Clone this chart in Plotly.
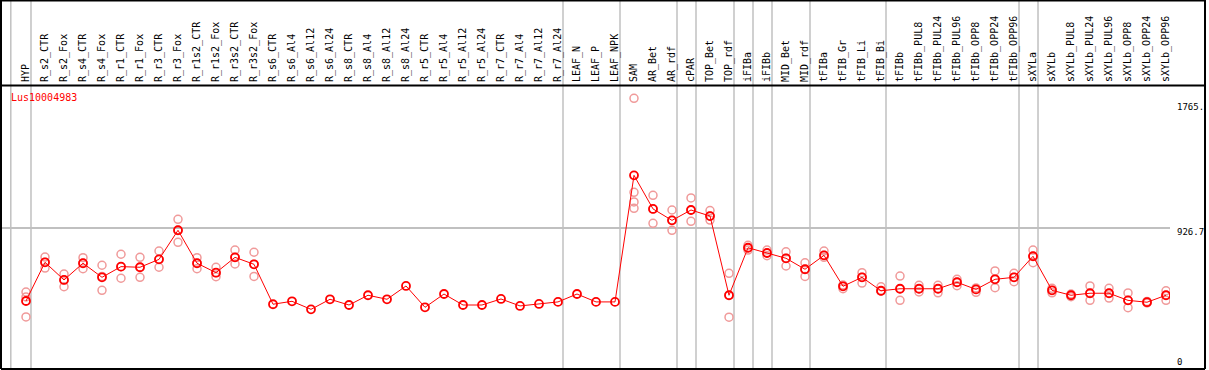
import plotly.graph_objects as go

categories = [
    "HYP", "R_s2_CTR", "R_s2_Fox", "R_s4_CTR", "R_s4_Fox", "R_r1_CTR", "R_r1_Fox",
    "R_r3_CTR", "R_r3_Fox", "R_r1s2_CTR", "R_r1s2_Fox", "R_r3s2_CTR", "R_r3s2_Fox",
    "R_s6_CTR", "R_s6_Al4", "R_s6_Al12", "R_s6_Al24", "R_s8_CTR", "R_s8_Al4",
    "R_s8_Al12", "R_s8_Al24", "R_r5_CTR", "R_r5_Al4", "R_r5_Al12", "R_r5_Al24",
    "R_r7_CTR", "R_r7_Al4", "R_r7_Al12", "R_r7_Al24", "LEAF_N", "LEAF_P", "LEAF_NPK",
    "SAM", "AR_Bet", "AR_rdf", "cPAR", "TOP_Bet", "TOP_rdf", "iFIBa", "iFIBb",
    "MID_Bet", "MID_rdf", "tFIBa", "tFIB_Gr", "tFIB_Li", "tFIB_Bi", "tFIBb",
    "tFIBb_PUL8", "tFIBb_PUL24", "tFIBb_PUL96", "tFIBb_OPP8", "tFIBb_OPP24",
    "tFIBb_OPP96", "sXYLa", "sXYLb", "sXYLb_PUL8", "sXYLb_PUL24", "sXYLb_PUL96",
    "sXYLb_OPP8", "sXYLb_OPP24", "sXYLb_OPP96",
]

mean_values = [
    455, 705, 591, 699, 608, 677, 673, 724, 912, 699, 638, 737, 692,
    434, 453, 401, 466, 429, 492, 466, 552, 414, 500, 429, 429,
    468, 423, 436, 449, 500, 449, 449,
    1267, 1050, 976, 1043, 1004, 492, 799, 765, 731, 660, 750,
    550, 608, 521, 534, 534, 534, 576, 530, 595, 608,
    744, 524, 492, 505, 505, 459, 447, 492,
]

replicate_values = [
    [513, 481, 352], [739, 705, 668], [629, 591, 547], [735, 699, 664],
    [686, 614, 524], [757, 677, 602], [737, 673, 608], [778, 724, 673],
    [983, 912, 834], [735, 699, 664], [673, 638, 612], [784, 737, 694],
    [770, 692, 614],
    [], [], [], [], [], [], [], [], [], [], [], [], [], [], [], [], [], [], [],
    [1765, 1157, 1095, 1054], [1138, 1050, 957], [1043, 976, 912],
    [1121, 1043, 970], [1039, 1004, 978], [634, 492, 350], [815, 799, 784],
    [784, 765, 748], [773, 731, 681], [702, 660, 614], [778, 750, 737],
    [558, 550, 534], [638, 608, 571], [547, 521, 518], [616, 534, 459],
    [556, 534, 513], [556, 534, 508], [595, 576, 554], [539, 530, 511],
    [649, 595, 541], [634, 608, 580],
    [784, 744, 702], [537, 524, 508], [500, 492, 483], [552, 505, 459],
    [537, 505, 474], [507, 459, 412], [452, 447, 442], [521, 492, 459],
]

separator_after = [
    "HYP", "R_r7_Al24", "LEAF_NPK", "AR_rdf", "cPAR", "TOP_rdf", "iFIBa", "iFIBb",
    "MID_rdf", "tFIB_Bi", "tFIBb_OPP96", "sXYLa", "sXYLb_OPP96",
]

gene_name = "Lus10004983"
y_tick_values = [1765, 926.7, 0]
y_tick_labels = ["1765.", "926.7", "0"]
Y_RANGE = [15.4, 1844.4]

x_idx = list(range(len(categories)))
rep_x, rep_y = [], []
for i, reps in enumerate(replicate_values):
    for v in reps:
        rep_x.append(i)
        rep_y.append(v)

FONT = "DejaVu Sans Mono"
fig = go.Figure()
fig.add_trace(go.Scatter(
    x=rep_x, y=rep_y, mode="markers",
    marker=dict(symbol="circle-open", size=8, color="#f09a9a", line=dict(width=1.5)),
    hoverinfo="skip", showlegend=False,
))
fig.add_trace(go.Scatter(
    x=x_idx, y=mean_values, mode="lines+markers",
    line=dict(color="#ff0000", width=1),
    marker=dict(symbol="circle-open", size=8, color="#ff0000", line=dict(width=1.8)),
    showlegend=False,
))

# plot area: px 2..1170 horizontally, 86..369 vertically
def px_to_paper_x(px):
    return (px - 2) / 1168.0

def py_to_paper_y(py):
    return (369 - py) / 283.0

def value_to_paper_y(v):
    return (v - Y_RANGE[0]) / (Y_RANGE[1] - Y_RANGE[0])

shapes = []
sep_positions = [-1 + 0.2] + [categories.index(c) + 0.263 for c in separator_after]
for xp in sep_positions:
    shapes.append(dict(type="line", xref="x", yref="paper", x0=xp, x1=xp,
                       y0=0, y1=py_to_paper_y(0), line=dict(color="#c0c0c0", width=1.5),
                       layer="below"))
# frame lines
frame = dict(xref="paper", yref="paper", line=dict(color="black", width=2), layer="above")
shapes.append(dict(type="line", x0=px_to_paper_x(1), x1=px_to_paper_x(1205),
                   y0=py_to_paper_y(0.5), y1=py_to_paper_y(0.5), **frame))
shapes.append(dict(type="line", x0=px_to_paper_x(1), x1=px_to_paper_x(1205),
                   y0=py_to_paper_y(85.5), y1=py_to_paper_y(85.5), **frame))
shapes.append(dict(type="line", x0=px_to_paper_x(1), x1=px_to_paper_x(1205),
                   y0=py_to_paper_y(369), y1=py_to_paper_y(369), **frame))
shapes.append(dict(type="line", x0=px_to_paper_x(1), x1=px_to_paper_x(1),
                   y0=py_to_paper_y(0), y1=py_to_paper_y(369), **frame))
shapes.append(dict(type="line", x0=px_to_paper_x(1205), x1=px_to_paper_x(1205),
                   y0=py_to_paper_y(0), y1=py_to_paper_y(369), **frame))

annotations = [dict(text=gene_name, xref="paper", yref="paper",
                    x=px_to_paper_x(9), y=py_to_paper_y(97), xanchor="left", yanchor="middle",
                    showarrow=False, font=dict(family=FONT, size=10, color="#ff0000"))]
tick_shift = [-9, -4, 9]
for v, lab, s in zip(y_tick_values, y_tick_labels, tick_shift):
    annotations.append(dict(text=lab, xref="paper", yref="paper", x=px_to_paper_x(1175),
                            y=value_to_paper_y(v), yshift=s, xanchor="left", yanchor="middle",
                            showarrow=False, font=dict(family=FONT, size=9, color="black")))

fig.update_layout(
    width=1209, height=370,
    margin=dict(l=2, r=39, t=86, b=1, pad=0),
    paper_bgcolor="white", plot_bgcolor="white",
    shapes=shapes, annotations=annotations,
    xaxis=dict(range=[-1.263, 60.21], side="top", tickmode="array", tickvals=x_idx,
               ticktext=categories, tickangle=-90, showgrid=False, zeroline=False,
               showline=False, ticks="", ticklabelstandoff=3,
               tickfont=dict(family=FONT, size=10, color="black")),
    yaxis=dict(range=Y_RANGE, tickmode="array", tickvals=[926.7], showticklabels=False,
               showgrid=True, gridcolor="#c0c0c0", gridwidth=1.5, zeroline=False, showline=False,
               ticks=""),
)
fig.write_html(
    "out.html",
    config={"displayModeBar": False},
    post_script="document.body.style.margin='0';document.body.style.overflow='hidden';",
)
